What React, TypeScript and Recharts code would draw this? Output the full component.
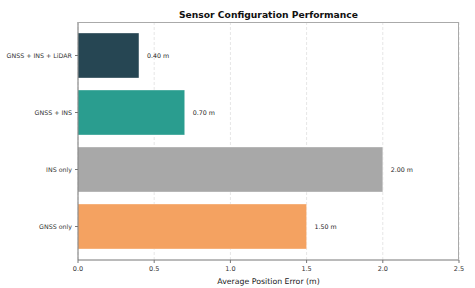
import { Bar, BarChart, CartesianGrid, Cell, LabelList, XAxis, YAxis } from "recharts";

const configurations = ["GNSS + INS + LiDAR", "GNSS + INS", "INS only", "GNSS only"];
const positionErrors = [0.4, 0.7, 2.0, 1.5];
const errorTicks = [0, 0.5, 1.0, 1.5, 2.0, 2.5];
const barColors = ["#264653", "#2a9d8f", "#a8a8a8", "#f4a261"];

const data = configurations.map((name, i) => ({ name, error: positionErrors[i] }));

const font = "'DejaVu Sans', sans-serif";

function renderXTick(props: any) {
  const { x, y, payload } = props;
  return (
    <text key={`x-${payload.value}`} x={x} y={y + 6} textAnchor="middle" fontSize={6.5} fill="#333" fontFamily={font}>
      {Number(payload.value).toFixed(1)}
    </text>
  );
}

function renderYTick(props: any) {
  const { x, y, payload } = props;
  return (
    <text key={`y-${payload.value}`} x={x - 1} y={y} dy={2.2} textAnchor="end" fontSize={6.3} fill="#333" fontFamily={font}>
      {payload.value}
    </text>
  );
}

export default function App() {
  return (
    <div style={{ position: "fixed", left: 0, top: 0, width: 475, height: 288, background: "#fff", fontFamily: font }}>
      <div
        style={{
          position: "absolute",
          left: 78,
          width: 381,
          top: 9,
          textAlign: "center",
          fontSize: 9.2,
          fontWeight: "bold",
          color: "#111",
        }}
      >
        Sensor Configuration Performance
      </div>
      <BarChart
        width={475}
        height={288}
        data={data}
        layout="vertical"
        margin={{ top: 22, right: 16, left: 0, bottom: 0 }}
      >
        <CartesianGrid horizontal={false} strokeDasharray="3 2" stroke="#e6e6e6" />
        <XAxis
          type="number"
          domain={[0, 2.5]}
          ticks={errorTicks}
          tick={renderXTick}
          tickSize={3}
          axisLine={{ stroke: "#777" }}
          tickLine={{ stroke: "#777" }}
          height={28}
          label={{ value: "Average Position Error (m)", position: "insideBottom", offset: 4, fontSize: 7.8, fill: "#222", fontFamily: font }}
        />
        <YAxis
          type="category"
          dataKey="name"
          width={78}
          padding={{ top: 5, bottom: 5 }}
          tick={renderYTick}
          tickSize={3}
          axisLine={{ stroke: "#777" }}
          tickLine={{ stroke: "#777" }}
        />
        <Bar dataKey="error" barSize={45} isAnimationActive={false} stroke="#ffffff" strokeOpacity={0.35} strokeWidth={1}>
          {data.map((d, i) => (
            <Cell key={d.name} fill={barColors[i]} />
          ))}
          <LabelList
            dataKey="error"
            position="right"
            offset={8}
            formatter={(v: any) => `${Number(v).toFixed(2)} m`}
            style={{ fontSize: 6.3, fill: "#222", fontFamily: font }}
          />
        </Bar>
      </BarChart>
      <div
        style={{
          position: "absolute",
          left: 78,
          top: 22,
          width: 381,
          height: 238,
          boxSizing: "border-box",
          borderTop: "1px solid #aaa",
          borderRight: "1px solid #aaa",
          pointerEvents: "none",
        }}
      />
    </div>
  );
}
